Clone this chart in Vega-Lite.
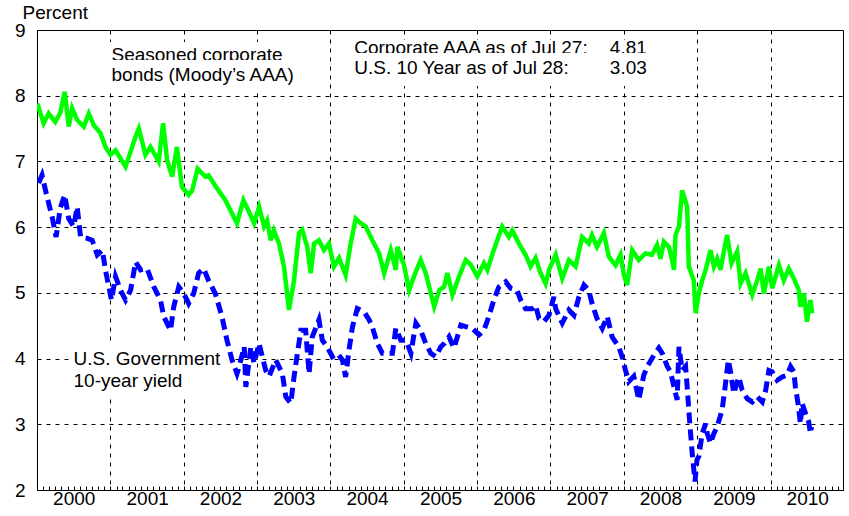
{
  "$schema": "https://vega.github.io/schema/vega-lite/v6.json",
  "width": 806,
  "height": 460,
  "autosize": {"type": "none"},
  "padding": {"left": 37, "top": 30, "right": 6, "bottom": 26},
  "background": "white",
  "config": {
    "view": {"stroke": "black", "strokeWidth": 1},
    "font": "Liberation Sans",
    "text": {"font": "Liberation Sans", "fontSize": 19, "color": "black", "baseline": "alphabetic", "align": "left"},
    "rect": {"fill": "white", "stroke": null}
  },
  "datasets": {
    "corp": [
      {"date":"2000-01-03","yield":7.88},{"date":"2000-02-03","yield":7.58},{"date":"2000-02-28","yield":7.73},{"date":"2000-04-01","yield":7.60},
      {"date":"2000-04-26","yield":7.74},{"date":"2000-05-18","yield":8.06},{"date":"2000-06-07","yield":7.53},{"date":"2000-06-24","yield":7.81},
      {"date":"2000-07-19","yield":7.63},{"date":"2000-08-21","yield":7.53},{"date":"2000-09-15","yield":7.73},{"date":"2000-10-10","yield":7.55},
      {"date":"2000-11-12","yield":7.43},{"date":"2000-12-07","yield":7.22},{"date":"2001-01-01","yield":7.10},{"date":"2001-01-26","yield":7.17},
      {"date":"2001-03-17","yield":6.92},{"date":"2001-05-06","yield":7.38},{"date":"2001-05-22","yield":7.50},{"date":"2001-06-24","yield":7.10},
      {"date":"2001-07-19","yield":7.22},{"date":"2001-08-29","yield":7.00},{"date":"2001-09-20","yield":7.58},{"date":"2001-10-10","yield":7.02},
      {"date":"2001-11-04","yield":6.77},{"date":"2001-11-28","yield":7.22},{"date":"2001-12-23","yield":6.61},{"date":"2002-01-25","yield":6.49},
      {"date":"2002-02-11","yield":6.55},{"date":"2002-03-11","yield":6.89},{"date":"2002-04-18","yield":6.77},{"date":"2002-05-04","yield":6.79},
      {"date":"2002-06-16","yield":6.59},{"date":"2002-07-27","yield":6.41},{"date":"2002-09-23","yield":6.06},{"date":"2002-10-25","yield":6.41},
      {"date":"2002-11-27","yield":6.20},{"date":"2002-12-17","yield":6.06},{"date":"2003-01-11","yield":6.31},{"date":"2003-02-05","yield":6.01},
      {"date":"2003-02-20","yield":6.10},{"date":"2003-03-10","yield":5.80},{"date":"2003-03-26","yield":5.95},{"date":"2003-04-20","yield":5.75},
      {"date":"2003-05-15","yield":5.40},{"date":"2003-06-09","yield":4.74},{"date":"2003-07-04","yield":5.19},{"date":"2003-07-29","yield":5.91},
      {"date":"2003-08-14","yield":5.96},{"date":"2003-09-08","yield":5.70},{"date":"2003-09-25","yield":5.30},{"date":"2003-10-12","yield":5.75},
      {"date":"2003-11-05","yield":5.80},{"date":"2003-11-30","yield":5.65},{"date":"2003-12-25","yield":5.75},{"date":"2004-01-19","yield":5.40},
      {"date":"2004-02-13","yield":5.53},{"date":"2004-03-17","yield":5.27},{"date":"2004-04-11","yield":5.75},{"date":"2004-05-06","yield":6.13},
      {"date":"2004-05-31","yield":6.06},{"date":"2004-06-25","yield":6.01},{"date":"2004-07-28","yield":5.80},{"date":"2004-08-31","yield":5.60},
      {"date":"2004-09-25","yield":5.30},{"date":"2004-10-28","yield":5.65},{"date":"2004-11-22","yield":5.35},{"date":"2004-11-30","yield":5.70},
      {"date":"2005-01-02","yield":5.42},{"date":"2005-01-27","yield":5.04},{"date":"2005-03-01","yield":5.32},{"date":"2005-03-26","yield":5.50},
      {"date":"2005-04-20","yield":5.30},{"date":"2005-06-01","yield":4.79},{"date":"2005-06-26","yield":5.04},{"date":"2005-07-20","yield":5.09},
      {"date":"2005-08-06","yield":5.30},{"date":"2005-08-31","yield":4.97},{"date":"2005-10-03","yield":5.25},{"date":"2005-11-05","yield":5.50},
      {"date":"2005-11-30","yield":5.43},{"date":"2006-01-02","yield":5.25},{"date":"2006-02-04","yield":5.45},{"date":"2006-02-21","yield":5.35},
      {"date":"2006-03-17","yield":5.58},{"date":"2006-04-11","yield":5.80},{"date":"2006-05-06","yield":6.01},{"date":"2006-06-08","yield":5.85},
      {"date":"2006-06-25","yield":5.95},{"date":"2006-07-28","yield":5.75},{"date":"2006-08-30","yield":5.58},{"date":"2006-09-24","yield":5.40},
      {"date":"2006-10-19","yield":5.53},{"date":"2006-11-13","yield":5.30},{"date":"2006-12-08","yield":5.14},{"date":"2006-12-25","yield":5.35},
      {"date":"2007-01-27","yield":5.58},{"date":"2007-03-01","yield":5.22},{"date":"2007-04-03","yield":5.50},{"date":"2007-05-06","yield":5.40},
      {"date":"2007-06-08","yield":5.85},{"date":"2007-07-11","yield":5.75},{"date":"2007-07-27","yield":5.88},{"date":"2007-08-21","yield":5.70},
      {"date":"2007-09-24","yield":5.91},{"date":"2007-10-19","yield":5.55},{"date":"2007-11-21","yield":5.42},{"date":"2007-12-16","yield":5.58},
      {"date":"2008-01-02","yield":5.27},{"date":"2008-01-18","yield":5.12},{"date":"2008-02-12","yield":5.65},{"date":"2008-03-16","yield":5.50},
      {"date":"2008-04-18","yield":5.60},{"date":"2008-05-21","yield":5.58},{"date":"2008-06-15","yield":5.73},{"date":"2008-07-02","yield":5.52},
      {"date":"2008-07-19","yield":5.78},{"date":"2008-08-13","yield":5.70},{"date":"2008-08-29","yield":5.50},{"date":"2008-09-07","yield":5.35},
      {"date":"2008-09-15","yield":5.88},{"date":"2008-10-02","yield":6.01},{"date":"2008-10-18","yield":6.56},{"date":"2008-11-12","yield":6.31},
      {"date":"2008-11-20","yield":5.40},{"date":"2008-12-15","yield":5.19},{"date":"2008-12-24","yield":4.69},{"date":"2009-01-09","yield":4.99},
      {"date":"2009-01-26","yield":5.19},{"date":"2009-02-12","yield":5.35},{"date":"2009-03-08","yield":5.65},{"date":"2009-03-25","yield":5.40},
      {"date":"2009-04-10","yield":5.52},{"date":"2009-04-27","yield":5.35},{"date":"2009-05-18","yield":5.70},{"date":"2009-05-30","yield":5.88},
      {"date":"2009-06-21","yield":5.45},{"date":"2009-07-19","yield":5.63},{"date":"2009-08-05","yield":5.14},{"date":"2009-08-30","yield":5.30},
      {"date":"2009-10-02","yield":4.97},{"date":"2009-10-27","yield":5.19},{"date":"2009-11-13","yield":5.37},{"date":"2009-11-29","yield":4.99},
      {"date":"2009-12-24","yield":5.40},{"date":"2010-01-09","yield":5.07},{"date":"2010-02-12","yield":5.42},{"date":"2010-03-08","yield":5.19},
      {"date":"2010-04-02","yield":5.37},{"date":"2010-04-27","yield":5.22},{"date":"2010-05-22","yield":5.04},{"date":"2010-05-30","yield":4.79},
      {"date":"2010-06-16","yield":4.99},{"date":"2010-07-02","yield":4.56},{"date":"2010-07-19","yield":4.89},{"date":"2010-07-27","yield":4.69}
    ],
    "tsy": [
      {"date":"2000-01-09","yield":6.67},{"date":"2000-01-26","yield":6.79},{"date":"2000-02-20","yield":6.46},{"date":"2000-03-16","yield":6.16},
      {"date":"2000-04-05","yield":5.85},{"date":"2000-04-26","yield":6.29},{"date":"2000-05-18","yield":6.49},{"date":"2000-06-07","yield":6.13},
      {"date":"2000-07-02","yield":6.01},{"date":"2000-07-19","yield":6.31},{"date":"2000-08-05","yield":5.85},{"date":"2000-09-08","yield":5.83},
      {"date":"2000-10-02","yield":5.80},{"date":"2000-10-27","yield":5.58},{"date":"2000-11-21","yield":5.65},{"date":"2000-12-10","yield":5.30},
      {"date":"2001-01-06","yield":4.89},{"date":"2001-01-26","yield":5.25},{"date":"2001-02-20","yield":5.04},{"date":"2001-03-17","yield":4.89},
      {"date":"2001-04-11","yield":5.04},{"date":"2001-05-06","yield":5.47},{"date":"2001-05-31","yield":5.35},{"date":"2001-07-02","yield":5.37},
      {"date":"2001-08-05","yield":5.09},{"date":"2001-09-07","yield":4.89},{"date":"2001-09-23","yield":4.64},{"date":"2001-10-27","yield":4.43},
      {"date":"2001-11-12","yield":4.79},{"date":"2001-12-07","yield":5.09},{"date":"2002-01-01","yield":4.99},{"date":"2002-01-25","yield":4.84},
      {"date":"2002-02-19","yield":4.99},{"date":"2002-03-16","yield":5.30},{"date":"2002-04-10","yield":5.37},{"date":"2002-05-04","yield":5.19},
      {"date":"2002-06-07","yield":4.99},{"date":"2002-07-10","yield":4.64},{"date":"2002-08-04","yield":4.28},{"date":"2002-08-29","yield":3.98},
      {"date":"2002-09-23","yield":3.77},{"date":"2002-10-04","yield":3.88},{"date":"2002-10-29","yield":4.18},{"date":"2002-11-06","yield":3.57},
      {"date":"2002-12-01","yield":4.18},{"date":"2002-12-17","yield":3.93},{"date":"2003-01-11","yield":4.23},{"date":"2003-02-13","yield":3.82},
      {"date":"2003-03-02","yield":3.73},{"date":"2003-04-04","yield":3.98},{"date":"2003-05-07","yield":3.77},{"date":"2003-05-24","yield":3.42},
      {"date":"2003-06-18","yield":3.32},{"date":"2003-07-04","yield":3.72},{"date":"2003-07-21","yield":4.08},{"date":"2003-08-07","yield":4.43},
      {"date":"2003-08-31","yield":4.43},{"date":"2003-09-17","yield":3.77},{"date":"2003-10-03","yield":4.33},{"date":"2003-11-05","yield":4.59},
      {"date":"2003-11-22","yield":4.28},{"date":"2003-12-16","yield":4.18},{"date":"2004-01-11","yield":4.03},{"date":"2004-02-05","yield":4.08},
      {"date":"2004-03-01","yield":3.98},{"date":"2004-03-17","yield":3.72},{"date":"2004-04-03","yield":4.13},{"date":"2004-04-20","yield":4.48},
      {"date":"2004-05-14","yield":4.76},{"date":"2004-06-17","yield":4.71},{"date":"2004-07-12","yield":4.59},{"date":"2004-07-28","yield":4.48},
      {"date":"2004-08-22","yield":4.23},{"date":"2004-09-16","yield":4.08},{"date":"2004-10-11","yield":4.08},{"date":"2004-11-05","yield":4.08},
      {"date":"2004-11-22","yield":4.46},{"date":"2004-12-17","yield":4.28},{"date":"2005-01-11","yield":4.28},{"date":"2005-02-05","yield":4.08},
      {"date":"2005-03-02","yield":4.54},{"date":"2005-03-26","yield":4.43},{"date":"2005-04-20","yield":4.23},{"date":"2005-05-15","yield":4.08},
      {"date":"2005-06-09","yield":4.03},{"date":"2005-07-04","yield":4.18},{"date":"2005-07-22","yield":4.23},{"date":"2005-08-14","yield":4.33},
      {"date":"2005-09-08","yield":4.16},{"date":"2005-10-12","yield":4.51},{"date":"2005-11-13","yield":4.48},{"date":"2005-12-08","yield":4.46},
      {"date":"2006-01-10","yield":4.36},{"date":"2006-02-04","yield":4.43},{"date":"2006-02-28","yield":4.64},{"date":"2006-03-25","yield":4.89},
      {"date":"2006-04-19","yield":5.09},{"date":"2006-05-23","yield":5.17},{"date":"2006-06-17","yield":5.07},{"date":"2006-07-19","yield":5.04},
      {"date":"2006-08-06","yield":4.89},{"date":"2006-08-30","yield":4.76},{"date":"2006-10-02","yield":4.76},{"date":"2006-10-19","yield":4.81},
      {"date":"2006-11-05","yield":4.61},{"date":"2006-11-29","yield":4.56},{"date":"2006-12-25","yield":4.66},{"date":"2007-01-18","yield":4.94},
      {"date":"2007-01-27","yield":4.76},{"date":"2007-03-01","yield":4.54},{"date":"2007-04-03","yield":4.74},{"date":"2007-04-28","yield":4.66},
      {"date":"2007-05-23","yield":4.94},{"date":"2007-06-17","yield":5.12},{"date":"2007-07-11","yield":5.04},{"date":"2007-07-27","yield":4.84},
      {"date":"2007-08-21","yield":4.61},{"date":"2007-09-16","yield":4.46},{"date":"2007-10-11","yield":4.64},{"date":"2007-11-04","yield":4.33},
      {"date":"2007-12-07","yield":4.18},{"date":"2007-12-24","yield":4.03},{"date":"2008-01-10","yield":3.82},{"date":"2008-01-26","yield":3.65},
      {"date":"2008-02-20","yield":3.73},{"date":"2008-03-16","yield":3.37},{"date":"2008-04-10","yield":3.75},{"date":"2008-05-01","yield":3.90},
      {"date":"2008-05-30","yield":4.05},{"date":"2008-06-24","yield":4.16},{"date":"2008-07-11","yield":4.08},{"date":"2008-08-05","yield":3.88},
      {"date":"2008-08-21","yield":3.80},{"date":"2008-09-07","yield":3.57},{"date":"2008-09-23","yield":3.37},{"date":"2008-10-02","yield":4.18},
      {"date":"2008-10-18","yield":3.82},{"date":"2008-11-04","yield":3.88},{"date":"2008-11-12","yield":3.57},{"date":"2008-11-20","yield":3.22},
      {"date":"2008-11-29","yield":2.86},{"date":"2008-12-07","yield":2.56},{"date":"2008-12-21","yield":2.13},{"date":"2008-12-31","yield":2.46},
      {"date":"2009-01-09","yield":2.51},{"date":"2009-01-26","yield":2.86},{"date":"2009-02-12","yield":3.01},{"date":"2009-02-20","yield":2.86},
      {"date":"2009-03-08","yield":2.71},{"date":"2009-03-25","yield":2.86},{"date":"2009-04-10","yield":2.96},{"date":"2009-05-05","yield":3.22},
      {"date":"2009-05-18","yield":3.52},{"date":"2009-06-05","yield":3.98},{"date":"2009-06-16","yield":3.80},{"date":"2009-07-02","yield":3.47},
      {"date":"2009-07-27","yield":3.72},{"date":"2009-08-13","yield":3.52},{"date":"2009-09-07","yield":3.39},{"date":"2009-10-02","yield":3.34},
      {"date":"2009-10-27","yield":3.42},{"date":"2009-11-21","yield":3.34},{"date":"2009-12-08","yield":3.52},{"date":"2009-12-24","yield":3.82},
      {"date":"2010-01-09","yield":3.80},{"date":"2010-02-03","yield":3.67},{"date":"2010-02-28","yield":3.72},{"date":"2010-03-25","yield":3.75},
      {"date":"2010-04-11","yield":3.88},{"date":"2010-04-27","yield":3.80},{"date":"2010-05-05","yield":3.57},{"date":"2010-05-18","yield":3.32},
      {"date":"2010-05-30","yield":3.01},{"date":"2010-06-07","yield":3.32},{"date":"2010-06-24","yield":3.17},{"date":"2010-07-10","yield":3.04},
      {"date":"2010-07-19","yield":2.86},{"date":"2010-07-24","yield":2.96}
    ]
  },
  "layer": [
    {
      "data": {"values": [{}]},
      "mark": {"type": "rect"},
      "encoding": {
        "x": {"datum": {"year": 2000, "month": 12, "date": 19, "utc": true}, "type": "temporal"},
        "x2": {"datum": {"year": 2003, "month": 8, "date": 2, "utc": true}},
        "y": {"datum": 8.817, "type": "quantitative"},
        "y2": {"datum": 8.087}
      }
    },
    {
      "data": {"values": [{}]},
      "mark": {"type": "rect"},
      "encoding": {
        "x": {"datum": {"year": 2004, "month": 4, "date": 8, "utc": true}, "type": "temporal"},
        "x2": {"datum": {"year": 2008, "month": 5, "date": 21, "utc": true}},
        "y": {"datum": 8.848, "type": "quantitative"},
        "y2": {"datum": 8.148}
      }
    },
    {
      "data": {"values": [{}]},
      "mark": {"type": "rect"},
      "encoding": {
        "x": {"datum": {"year": 2000, "month": 6, "date": 13, "utc": true}, "type": "temporal"},
        "x2": {"datum": {"year": 2002, "month": 8, "date": 25, "utc": true}},
        "y": {"datum": 4.236, "type": "quantitative"},
        "y2": {"datum": 3.40}
      }
    },
    {
      "data": {"name": "corp"},
      "mark": {"type": "line", "color": "#00ff00", "strokeWidth": 4.5, "clip": true},
      "encoding": {
        "x": {
          "field": "date",
          "type": "temporal",
          "scale": {
            "type": "utc",
            "domain": [{"year": 2000, "month": 1, "date": 1, "utc": true}, {"year": 2010, "month": 12, "date": 28, "utc": true}],
            "nice": false
          },
          "axis": {
            "title": null,
            "tickCount": {"interval": "month", "step": 1},
            "tickSize": -4,
            "tickColor": "black",
            "tickWidth": 1,
            "domainColor": "black",
            "labelExpr": "utcmonth(datum.value) == 0 ? utcFormat(datum.value, '%Y') : ''",
            "labelOffset": 36.7,
            "labelFlush": false,
            "labelOverlap": false,
            "labelBound": false,
            "labelPadding": 3,
            "labelFontSize": 19,
            "labelFont": "Liberation Sans",
            "labelColor": "black",
            "grid": true,
            "gridColor": "black",
            "gridDash": [4, 5],
            "gridWidth": 1,
            "gridOpacity": {"condition": {"test": "utcmonth(datum.value) == 0", "value": 1}, "value": 0}
          }
        },
        "y": {
          "field": "yield",
          "type": "quantitative",
          "scale": {"domain": [2, 9], "nice": false, "zero": false},
          "axis": {
            "values": [2, 3, 4, 5, 6, 7, 8, 9],
            "format": "d",
            "ticks": false,
            "labelPadding": 12,
            "labelFontSize": 19,
            "labelFont": "Liberation Sans",
            "labelColor": "black",
            "domainColor": "black",
            "grid": true,
            "gridColor": "black",
            "gridDash": [4, 5],
            "gridWidth": 1,
            "gridOpacity": 1,
            "title": "Percent",
            "titleAngle": 0,
            "titleAlign": "left",
            "titleBaseline": "alphabetic",
            "titleX": -15,
            "titleY": -12,
            "titleFontSize": 19,
            "titleFontWeight": "normal",
            "titleFont": "Liberation Sans",
            "titleColor": "black"
          }
        }
      }
    },
    {
      "data": {"name": "tsy"},
      "mark": {"type": "line", "color": "#0000ff", "strokeWidth": 5, "strokeDash": [11, 6], "clip": true},
      "encoding": {
        "x": {"field": "date", "type": "temporal"},
        "y": {"field": "yield", "type": "quantitative"}
      }
    },
    {
      "data": {"values": [{}]},
      "mark": {"type": "text"},
      "encoding": {
        "x": {"datum": {"year": 2001, "month": 1, "date": 6, "utc": true}, "type": "temporal"},
        "y": {"datum": 8.528, "type": "quantitative"},
        "text": {"value": "Seasoned corporate"}
      }
    },
    {
      "data": {"values": [{}]},
      "mark": {"type": "rect"},
      "encoding": {
        "x": {"datum": {"year": 2000, "month": 12, "date": 19, "utc": true}, "type": "temporal"},
        "x2": {"datum": {"year": 2003, "month": 8, "date": 2, "utc": true}},
        "y": {"datum": 8.543, "type": "quantitative"},
        "y2": {"datum": 8.087}
      }
    },
    {
      "data": {"values": [{}]},
      "mark": {"type": "text"},
      "encoding": {
        "x": {"datum": {"year": 2001, "month": 1, "date": 6, "utc": true}, "type": "temporal"},
        "y": {"datum": 8.224, "type": "quantitative"},
        "text": {"value": "bonds (Moody\u2019s AAA)"}
      }
    },
    {
      "data": {"values": [{}]},
      "mark": {"type": "text"},
      "encoding": {
        "x": {"datum": {"year": 2004, "month": 4, "date": 29, "utc": true}, "type": "temporal"},
        "y": {"datum": 8.635, "type": "quantitative"},
        "text": {"value": "Corporate AAA as of Jul 27:"}
      }
    },
    {
      "data": {"values": [{}]},
      "mark": {"type": "text", "align": "right"},
      "encoding": {
        "x": {"datum": {"year": 2008, "month": 4, "date": 25, "utc": true}, "type": "temporal"},
        "y": {"datum": 8.635, "type": "quantitative"},
        "text": {"value": "4.81"}
      }
    },
    {
      "data": {"values": [{}]},
      "mark": {"type": "rect"},
      "encoding": {
        "x": {"datum": {"year": 2004, "month": 4, "date": 8, "utc": true}, "type": "temporal"},
        "x2": {"datum": {"year": 2008, "month": 5, "date": 21, "utc": true}},
        "y": {"datum": 8.650, "type": "quantitative"},
        "y2": {"datum": 8.148}
      }
    },
    {
      "data": {"values": [{}]},
      "mark": {"type": "text"},
      "encoding": {
        "x": {"datum": {"year": 2004, "month": 4, "date": 29, "utc": true}, "type": "temporal"},
        "y": {"datum": 8.330, "type": "quantitative"},
        "text": {"value": "U.S. 10 Year as of Jul 28:"}
      }
    },
    {
      "data": {"values": [{}]},
      "mark": {"type": "text", "align": "right"},
      "encoding": {
        "x": {"datum": {"year": 2008, "month": 4, "date": 25, "utc": true}, "type": "temporal"},
        "y": {"datum": 8.330, "type": "quantitative"},
        "text": {"value": "3.03"}
      }
    },
    {
      "data": {"values": [{}]},
      "mark": {"type": "text"},
      "encoding": {
        "x": {"datum": {"year": 2000, "month": 7, "date": 1, "utc": true}, "type": "temporal"},
        "y": {"datum": 3.901, "type": "quantitative"},
        "text": {"value": "U.S. Government"}
      }
    },
    {
      "data": {"values": [{}]},
      "mark": {"type": "text"},
      "encoding": {
        "x": {"datum": {"year": 2000, "month": 7, "date": 1, "utc": true}, "type": "temporal"},
        "y": {"datum": 3.566, "type": "quantitative"},
        "text": {"value": "10-year yield"}
      }
    }
  ]
}
